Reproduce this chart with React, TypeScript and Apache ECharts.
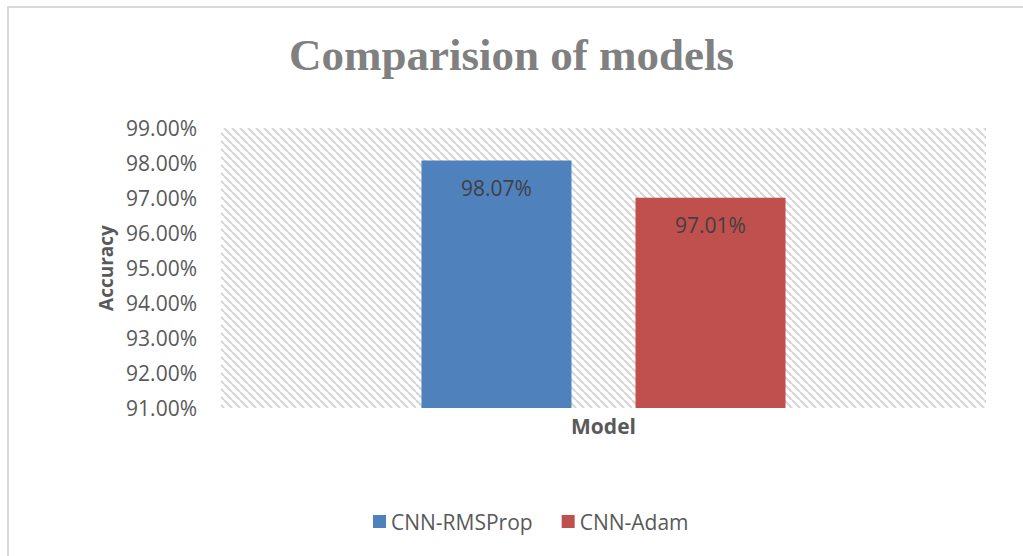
import React, { useEffect, useRef } from "react";
import * as echarts from "echarts";

const categories = [""];
const seriesNames = ["CNN-RMSProp", "CNN-Adam"];
const rmspropValues = [98.07];
const adamValues = [97.01];
const yTicks = { min: 91, max: 99, interval: 1 };

function makeHatch() {
  const c = document.createElement("canvas");
  c.width = 8;
  c.height = 8;
  const ctx = c.getContext("2d")!;
  ctx.fillStyle = "#ffffff";
  ctx.fillRect(0, 0, 8, 8);
  ctx.strokeStyle = "#d6d6d6";
  ctx.lineWidth = 2.2;
  for (const o of [-8, 0, 8]) {
    ctx.beginPath();
    ctx.moveTo(o, 0);
    ctx.lineTo(o + 8, 8);
    ctx.stroke();
  }
  return c;
}

export default function App() {
  const ref = useRef<HTMLDivElement>(null);
  useEffect(() => {
    if (!ref.current) return;
    const chart = echarts.init(ref.current, null, { renderer: "svg" });
    const font = "'Open Sans', 'Noto Sans', sans-serif";
    const labelStyle = {
      show: true,
      position: "insideTop" as const,
      distance: 17,
      color: "#404040",
      fontSize: 21,
      fontFamily: font,
      formatter: (p: any) => p.value.toFixed(2) + "%",
    };
    chart.setOption({
      animation: false,
      backgroundColor: "transparent",
      title: {
        text: "Comparision of models",
        left: "center",
        top: 27,
        textStyle: {
          fontFamily: "'Liberation Serif', 'DejaVu Serif', serif",
          fontWeight: "bold",
          fontSize: 45,
          color: "#808080",
        },
      },
      grid: {
        left: 221,
        right: 37,
        top: 128,
        bottom: 148,
        show: true,
        borderWidth: 0,
        backgroundColor: { image: makeHatch(), repeat: "repeat" },
      },
      legend: {
        data: seriesNames,
        left: 368,
        top: 506,
        itemWidth: 13,
        itemHeight: 13,
        itemGap: 29,
        icon: "rect",
        textStyle: { fontFamily: font, fontSize: 21, color: "#595959" },
      },
      xAxis: {
        type: "category",
        data: categories,
        name: "Model",
        nameLocation: "middle",
        nameGap: 7,
        nameTextStyle: { fontFamily: font, fontSize: 21, fontWeight: "bold", color: "#595959" },
        axisLine: { show: false },
        axisTick: { show: false },
        axisLabel: { show: false },
      },
      yAxis: {
        type: "value",
        min: yTicks.min,
        max: yTicks.max,
        interval: yTicks.interval,
        name: "Accuracy",
        nameLocation: "middle",
        nameRotate: 90,
        nameGap: 104,
        nameTextStyle: { fontFamily: font, fontSize: 19, fontWeight: "bold", color: "#595959" },
        axisLine: { show: false },
        axisTick: { show: false },
        splitLine: { show: false },
        axisLabel: {
          margin: 24,
          fontFamily: font,
          fontSize: 21,
          color: "#595959",
          formatter: (v: number) => v.toFixed(2) + "%",
        },
      },
      series: [
        {
          name: seriesNames[0],
          type: "bar",
          data: rmspropValues,
          barWidth: 150,
          barGap: "42.7%",
          itemStyle: { color: "#4f81bd" },
          label: labelStyle,
        },
        {
          name: seriesNames[1],
          type: "bar",
          data: adamValues,
          barWidth: 150,
          itemStyle: { color: "#c0504d" },
          label: labelStyle,
        },
      ],
    });
    return () => chart.dispose();
  }, []);
  return (
    <div style={{ position: "absolute", left: 0, top: 0, width: 1023, height: 556, background: "#fff" }}>
      <div
        style={{
          position: "absolute",
          left: 7,
          top: 6,
          width: 1030,
          height: 560,
          borderLeft: "2px solid #d9d9d9",
          borderTop: "2px solid #d9d9d9",
        }}
      />
      <div ref={ref} style={{ position: "absolute", left: 0, top: 0, width: 1023, height: 556 }} />
    </div>
  );
}
